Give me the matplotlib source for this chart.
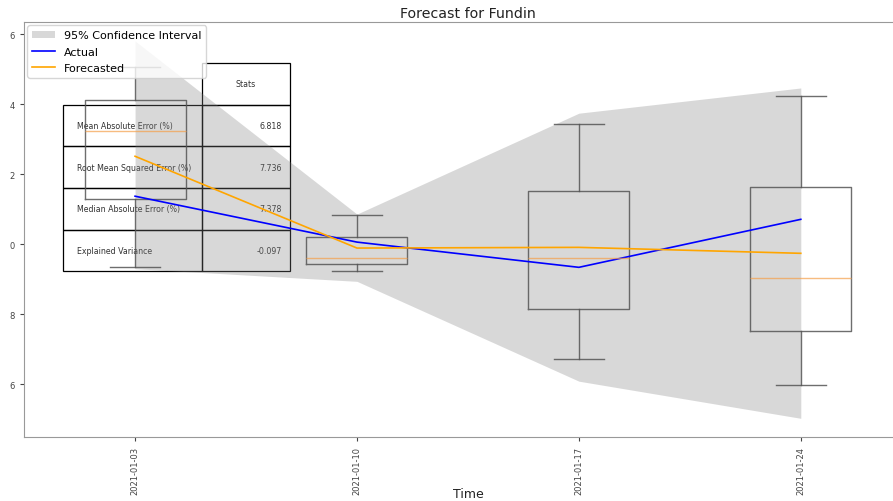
import numpy as np
import matplotlib
matplotlib.use("Agg")
import matplotlib.pyplot as plt

# weekly dates shown on the x axis
dates = ["2021-01-03", "2021-01-10", "2021-01-17", "2021-01-24"]

actual = [1.37, 0.06, -0.66, 0.71]
forecasted = [2.51, -0.11, -0.09, -0.26]
ci_lower = [-0.70, -1.06, -3.91, -4.97]
ci_upper = [5.80, 0.86, 3.74, 4.46]

# box plot summary per week
box_q1 = [1.29, -0.57, -1.86, -2.49]
box_med = [3.23, -0.40, -0.40, -0.97]
box_q3 = [4.11, 0.20, 1.51, 1.63]
box_lo = [-0.66, -0.77, -3.29, -4.03]
box_hi = [5.06, 0.83, 3.43, 4.23]

stat_names = ["Mean Absolute Error (%)", "Root Mean Squared Error (%)",
              "Median Absolute Error (%)", "Explained Variance"]
stat_values = ["6.818", "7.736", "7.378", "-0.097"]

ytick_vals = [6, 4, 2, 0, -2, -4]
ytick_text = ["6", "4", "2", "0", "8", "6"]

x = np.arange(len(dates))

fig = plt.figure(figsize=(8.93, 5.02), dpi=100)
# axes runs a little past the right edge, like the cropped original
ax = fig.add_axes([0.027, 0.127, 0.994, 0.827])

ax.fill_between(x, ci_lower, ci_upper, color="gray", alpha=0.3, linewidth=0,
                label="95% Confidence Interval")

stats = []
for i in range(len(dates)):
    stats.append({"q1": box_q1[i], "med": box_med[i], "q3": box_q3[i],
                  "whislo": box_lo[i], "whishi": box_hi[i], "fliers": []})
ax.bxp(stats, positions=x, widths=0.455, showfliers=False,
       boxprops=dict(color="#555555", linewidth=1.0, alpha=0.85),
       whiskerprops=dict(color="#555555", linewidth=1.0, alpha=0.85),
       capprops=dict(color="#555555", linewidth=1.0, alpha=0.85),
       medianprops=dict(color="#f5a04a", linewidth=1.0, alpha=0.7))

ax.plot(x, actual, color="blue", linewidth=1.2, label="Actual")
ax.plot(x, forecasted, color="orange", linewidth=1.2, label="Forecasted")

cell_text = [[n, v] for n, v in zip(stat_names, stat_values)]
tbl = ax.table(cellText=cell_text, colLabels=["", "Stats"],
               colWidths=[0.61, 0.39], cellLoc="left",
               bbox=[0.044, 0.40, 0.256, 0.501])
tbl.auto_set_font_size(False)
tbl.set_fontsize(5.7)
for (r, c), cell in tbl.get_celld().items():
    cell.set_facecolor("none")
    cell.set_linewidth(0.9)
    cell.get_text().set_color("#333333")
    if r == 0 and c == 0:
        cell.set_visible(False)
    if c == 1:
        cell._loc = "right" if r > 0 else "center"
        cell.get_text().set_ha(cell._loc)

ax.set_xlim(-0.5, 3.5)
ax.set_ylim(-5.51, 6.34)
ax.set_xticks(x)
ax.set_xticklabels(dates, rotation=90)
ax.set_yticks(ytick_vals)
ax.set_yticklabels(ytick_text)
ax.tick_params(labelsize=6, colors="#444444", length=3)
for s in ax.spines.values():
    s.set_color("#999999")

ax.set_title("Forecast for Fundin", fontsize=10.2, pad=4, color="#222222")
ax.set_xlabel("Time", fontsize=9, color="#222222", va="center")
ax.xaxis.set_label_coords(0.5, -0.135)
ax.legend(loc="upper left", fontsize=8.0, borderaxespad=0.3,
          labelspacing=0.55, borderpad=0.45)

fig.savefig("out.png", dpi=100)
